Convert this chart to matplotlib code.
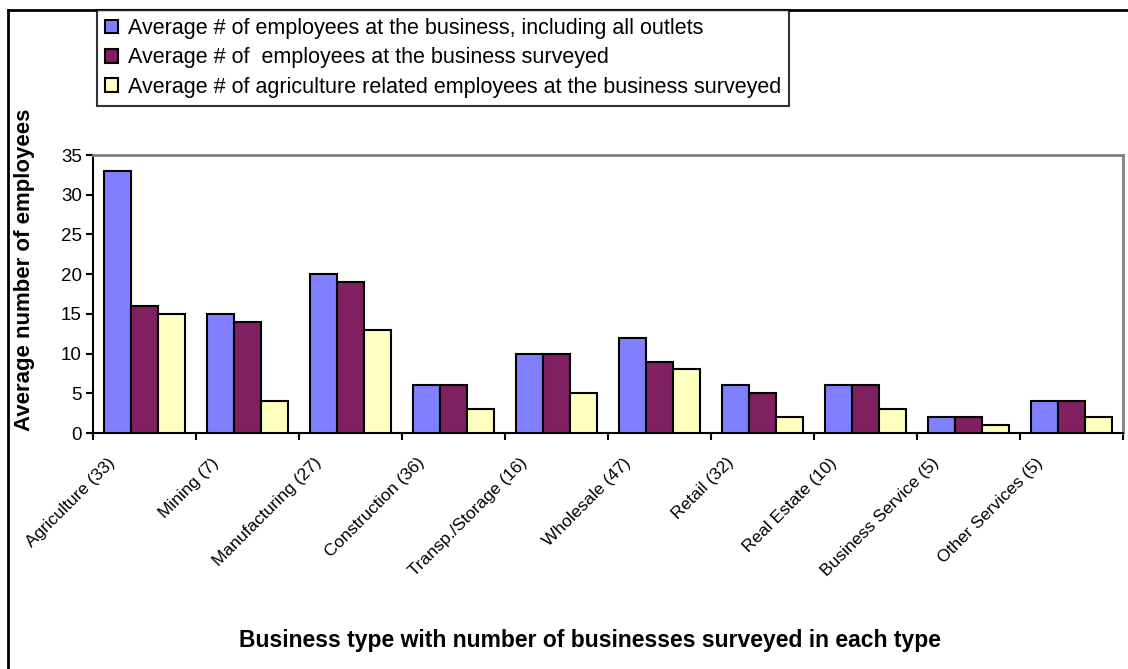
import matplotlib
matplotlib.use("Agg")
import matplotlib.pyplot as plt
from matplotlib.lines import Line2D
from matplotlib.patches import Patch
import matplotlib.transforms as mtransforms
import numpy as np

categories = ["Agriculture (33)", "Mining (7)", "Manufacturing (27)", "Construction (36)",
              "Transp./Storage (16)", "Wholesale (47)", "Retail (32)", "Real Estate (10)",
              "Business Service (5)", "Other Services (5)"]
all_outlets = [33, 15, 20, 6, 10, 12, 6, 6, 2, 4]
surveyed = [16, 14, 19, 6, 10, 9, 5, 6, 2, 4]
agri_related = [15, 4, 13, 3, 5, 8, 2, 3, 1, 2]
series_labels = ["Average # of employees at the business, including all outlets",
                 "Average # of  employees at the business surveyed",
                 "Average # of agriculture related employees at the business surveyed"]
colors = ["#8080FF", "#802060", "#FFFFC0"]

W, H = 1128, 669
plt.rcParams["font.family"] = ["Liberation Sans", "DejaVu Sans"]

fig = plt.figure(figsize=(W / 100, H / 100), dpi=100)
ax = fig.add_axes([93 / W, 1 - 433 / H, 1030 / W, 278 / H])

x = np.arange(len(categories))
bw = 0.26
for i, vals in enumerate([all_outlets, surveyed, agri_related]):
    ax.bar(x + (i - 1) * bw, vals, bw, color=colors[i], edgecolor="black",
           linewidth=1.5, label=series_labels[i], zorder=3)

ax.set_xlim(-0.5, len(categories) - 0.5)
ax.set_ylim(0, 35)
ax.set_yticks(range(0, 36, 5))
ax.tick_params(axis="y", labelsize=13.5, direction="out", length=5, width=1.5, pad=3)

# ticks between groups, labels at centres
ax.set_xticks(np.arange(-0.5, len(categories)), minor=True)
ax.set_xticks(x)
ax.tick_params(axis="x", which="minor", direction="out", length=5, width=1.5)
ax.tick_params(axis="x", which="major", length=0, pad=16)
labels = ax.set_xticklabels(categories, rotation=45, ha="right", va="top", fontsize=12.5)
shift = mtransforms.ScaledTranslation(-26 / 100, 0, fig.dpi_scale_trans)
for lab in labels:
    lab.set_transform(lab.get_transform() + shift)

for s in ["top", "right"]:
    ax.spines[s].set_color("#808080")
    ax.spines[s].set_linewidth(2)
for s in ["left", "bottom"]:
    ax.spines[s].set_linewidth(1.5)

fig.text(25 / W, 1 - 270 / H, "Average number of employees", rotation=90,
         ha="center", va="center", fontsize=16, fontweight="bold")
fig.text(590 / W, 1 - 640 / H, "Business type with number of businesses surveyed in each type",
         ha="center", va="center", fontsize=16.5, fontweight="bold")

handles = [Patch(facecolor=c, edgecolor="black", linewidth=1.5) for c in colors]
leg = fig.legend(handles, series_labels, loc="upper left",
                 bbox_to_anchor=(97 / W, 1 - 10 / H), fontsize=15.5,
                 frameon=True, fancybox=False, borderaxespad=0,
                 handlelength=0.6, handleheight=0.6, handletextpad=0.45,
                 labelspacing=0.38, borderpad=0.38)
leg.get_frame().set_edgecolor("black")
leg.get_frame().set_linewidth(1.5)

# outer chart frame (left and top edges visible)
fig.add_artist(Line2D([8 / W, 8 / W], [0, 1 - 10 / H], color="black", linewidth=2,
                      transform=fig.transFigure))
fig.add_artist(Line2D([8 / W, 1], [1 - 10 / H, 1 - 10 / H], color="black", linewidth=2,
                      transform=fig.transFigure))

fig.savefig("out.png", dpi=100)
